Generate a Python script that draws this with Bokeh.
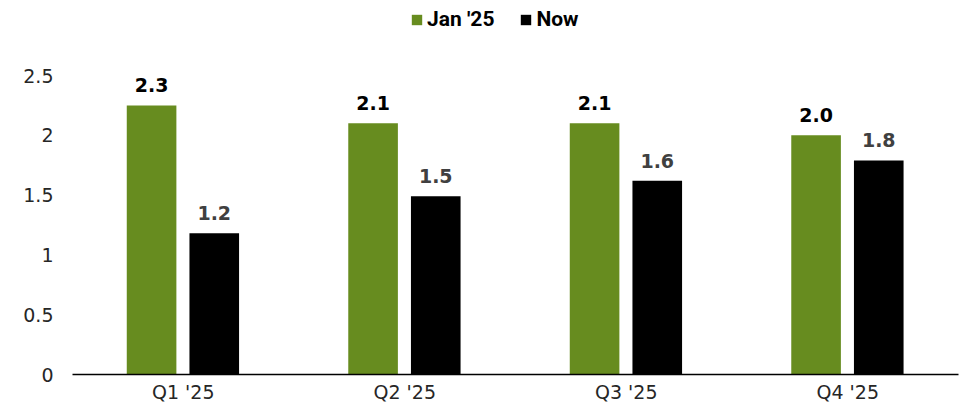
from bokeh.plotting import figure
from bokeh.models import ColumnDataSource, Legend, LegendItem, FactorRange, Range1d
from bokeh.transform import dodge
from bokeh.core.properties import value
from bokeh.embed import file_html
from bokeh.resources import INLINE

quarters = ["Q1 '25", "Q2 '25", "Q3 '25", "Q4 '25"]
jan_values = [2.25, 2.1, 2.1, 2.0]
now_values = [1.18, 1.49, 1.62, 1.79]
jan_labels = ["2.3", "2.1", "2.1", "2.0"]
now_labels = ["1.2", "1.5", "1.6", "1.8"]
y_ticks = [0, 0.5, 1, 1.5, 2, 2.5]
y_tick_labels = ["0", "0.5", "1", "1.5", "2", "2.5"]

GREEN = "#678C1F"
FONT = "DejaVu Sans"
LEGEND_FONT = "Roboto"

src = ColumnDataSource(dict(q=quarters, jan=jan_values, now=now_values,
                            jl=jan_labels, nl=now_labels))

W, H = 959, 409
TOP_PX, BOT_PX = 0, 35
frame_h = H - TOP_PX - BOT_PX
y_top = 2.5 * frame_h / 299.0  # keeps 2.5 at the reference height, leaves room for legend

p = figure(width=W, height=H, x_range=FactorRange(*quarters, range_padding=0),
           y_range=Range1d(0, y_top), output_backend="svg", toolbar_location=None,
           min_border_left=72, min_border_right=1, min_border_top=TOP_PX,
           min_border_bottom=BOT_PX)
p.outline_line_color = None
p.grid.visible = False

r1 = p.vbar(x=dodge("q", -0.143, range=p.x_range), top="jan", width=0.224, source=src,
            fill_color=GREEN, line_color=None)
r2 = p.vbar(x=dodge("q", 0.14, range=p.x_range), top="now", width=0.224, source=src,
            fill_color="black", line_color=None)

p.text(x=dodge("q", -0.143, range=p.x_range), y="jan", text="jl", source=src,
       text_align="center", text_baseline="alphabetic", y_offset=-20,
       text_font=value(FONT), text_font_size="19px", text_font_style="bold", text_color="black")
p.text(x=dodge("q", 0.14, range=p.x_range), y="now", text="nl", source=src,
       text_align="center", text_baseline="alphabetic", y_offset=-20,
       text_font=value(FONT), text_font_size="19px", text_font_style="bold", text_color="#404040")

for ax in (p.xaxis[0], p.yaxis[0]):
    ax.major_tick_line_color = None
    ax.minor_tick_line_color = None
    ax.major_tick_out = 0
    ax.major_tick_in = 0
    ax.minor_tick_out = 0
    ax.major_label_text_font = FONT
    ax.major_label_text_font_size = "19px"
    ax.major_label_text_color = "#262626"

p.yaxis.ticker = y_ticks
p.yaxis.major_label_overrides = {t: l for t, l in zip(y_ticks, y_tick_labels)}
p.yaxis.axis_line_color = None
p.yaxis.major_label_standoff = 19

p.xaxis.axis_line_color = "black"
p.xaxis.axis_line_width = 1.5
p.xaxis.major_label_standoff = 6

legend = Legend(items=[LegendItem(label="Jan '25", renderers=[r1]),
                       LegendItem(label="Now", renderers=[r2])],
                orientation="horizontal", location=(338, frame_h - 31),
                label_text_font=LEGEND_FONT, label_text_font_size="21px",
                label_text_font_style="bold", label_text_color="black",
                glyph_width=13, glyph_height=13, spacing=25, label_standoff=4,
                border_line_color=None, background_fill_alpha=0, margin=0, padding=0)
p.add_layout(legend, "center")

open("out.html", "w").write(file_html(p, INLINE))
